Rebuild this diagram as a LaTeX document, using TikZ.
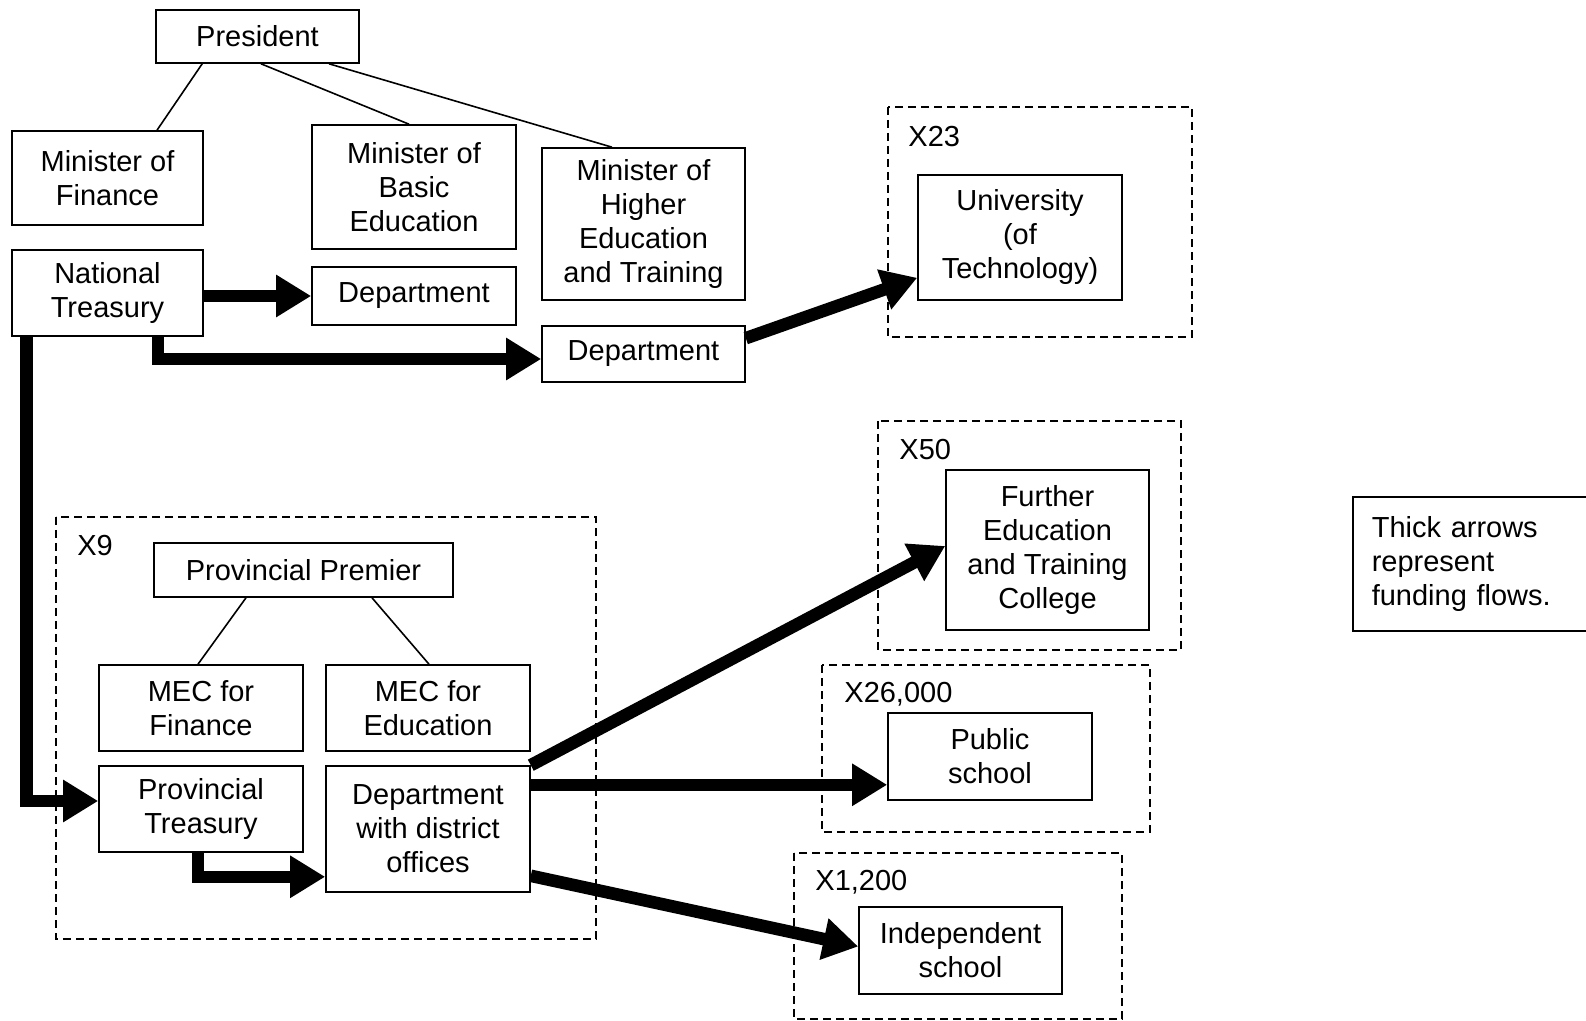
\documentclass[tikz,border=0pt]{standalone}
\usepackage{fontspec}
\setmainfont{Liberation Sans}
\usetikzlibrary{arrows.meta, positioning, calc}

\tikzset{
  box/.style={draw, line width=0.8pt, align=center, inner sep=0pt},
  group/.style={draw, line width=0.8pt, dash pattern=on 4pt off 2.5pt},
  tag/.style={anchor=west, inner sep=0pt},
  link/.style={line width=0.8pt},
  flow/.style={line width=6.3pt, line join=miter, -{Triangle[length=17.5pt, width=20pt]}},
}

\begin{document}
\begin{tikzpicture}[x=0.5pt, y=-0.5pt, font=\fontsize{14.5}{17}\selectfont]
\useasboundingbox (0,0) rectangle (1586,1021);

% national level
\node[box, minimum width=101.5pt, minimum height=26.5pt] (pres) at (257.5,36.5) {President};
\node[box, minimum width=95.5pt, minimum height=47pt] (mf) at (107.5,178) {Minister of\\Finance};
\node[box, minimum width=102pt, minimum height=62pt] (mb) at (414,187) {Minister of\\Basic\\Education};
\node[box, minimum width=101.5pt, minimum height=76pt] (mh) at (643.5,224) {Minister of\\Higher\\Education\\and Training};
\node[box, minimum width=95.5pt, minimum height=43pt] (nt) at (107.5,293) {National\\Treasury};
\node[box, minimum width=102pt, minimum height=29pt] (db) at (414,296) {Department};
\node[box, minimum width=101.5pt, minimum height=28pt] (dh) at (643.5,354) {Department};

\draw[link] ($(pres.south west)+(47,0)$) -- ($(mf.north)+(49.5,0)$);
\draw[link] ($(pres.south)+(3.5,0)$) -- ($(mb.north)+(-5,0)$);
\draw[link] ($(pres.south)+(71.5,0)$) -- ($(mh.north)+(-31.5,0)$);

% institutions
\draw[group] (888,107) rectangle (1192,337);
\node[tag] (t23) at (908,137) {X23};
\node[box, minimum width=102pt, minimum height=62.5pt] (univ) at (1020,237.5) {University\\(of\\Technology)};

\draw[group] (878,421) rectangle (1181,650);
\node[tag] (t50) at (899,450) {X50};
\node[box, minimum width=101.5pt, minimum height=80pt] (fet) at (1047.5,550) {Further\\Education\\and Training\\College};

\draw[group] (822,665) rectangle (1150,832);
\node[tag] (t26) at (844,694) {X26,000};
\node[box, minimum width=102pt, minimum height=43.5pt] (pub) at (990,756.5) {Public\\school};

\draw[group] (794,853) rectangle (1122,1019);
\node[tag] (t12) at (815,882) {X1,200};
\node[box, minimum width=101.5pt, minimum height=43.5pt] (ind) at (960.5,950.5) {Independent\\school};

% provinces
\draw[group] (56,517) rectangle (596,939);
\node[tag] (t9) at (77,546) {X9};
\node[box, minimum width=149.5pt, minimum height=27pt] (pp) at (303.5,570) {Provincial Premier};
\node[box, minimum width=102pt, minimum height=43pt] (mecf) at (201,708) {MEC for\\Finance};
\node[box, minimum width=102pt, minimum height=43pt] (mece) at (428,708) {MEC for\\Education};
\node[box, minimum width=102pt, minimum height=43pt] (pt) at (201,809) {Provincial\\Treasury};
\node[box, minimum width=102pt, minimum height=63pt] (dd) at (428,829) {Department\\with district\\offices};

\draw[link] ($(pp.south)+(-57.5,0)$) -- ($(mecf.north)+(-3,0)$);
\draw[link] ($(pp.south)+(68.5,0)$) -- ($(mece.north)+(1,0)$);

% legend
\node[box, anchor=north west, text width=100pt, align=left, inner xsep=9.5pt, minimum height=67pt] (note) at (1352,496) {Thick arrows\\represent\\funding flows.};

% funding flows
\draw[flow] (nt.east |- db.west) -- (db.west);
\draw[flow] ($(nt.south east)+(-46,0)$) |- ($(dh.west)+(0,5)$);
\draw[flow] ($(nt.south west)+(15,0)$) |- ($(pt.west)+(0,-8)$);
\draw[flow] ($(dh.north east)+(0,13)$) -- ($(univ.south west)+(0,-23)$);
\draw[flow] ($(pt.south)+(-3,0)$) |- ($(dd.south west)+(0,-16)$);
\draw[flow] (dd.north east) -- ($(fet.west)+(0,-4)$);
\draw[flow] (dd.east |- pub.south west) ++(0,-16) -- ($(pub.south west)+(0,-16)$);
\draw[flow] ($(dd.south east)+(0,-17)$) -- ($(ind.west)+(0,-4)$);
\end{tikzpicture}
\end{document}
